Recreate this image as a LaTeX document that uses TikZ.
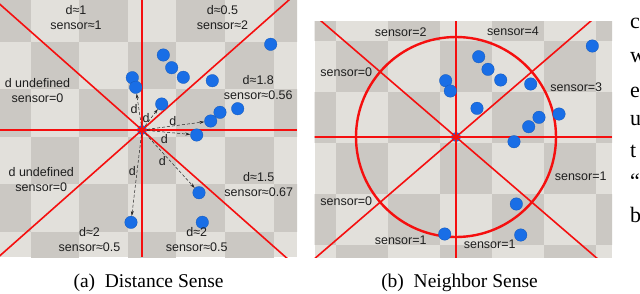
\documentclass[tikz,border=0pt]{standalone}
\usepackage{fontspec}
\setmainfont{Liberation Serif}
\newfontfamily\arialfont{Liberation Sans}
\usetikzlibrary{calc,arrows.meta}
\definecolor{SqLight}{RGB}{226,224,219}
\definecolor{SqDark}{RGB}{203,200,195}
\definecolor{LineRed}{RGB}{245,15,15}
\definecolor{DotBlue}{RGB}{25,110,230}
\definecolor{TextGray}{RGB}{30,30,30}
\tikzset{
  bot/.style={circle,fill=DotBlue,draw=DotBlue!80!black,line width=0.3pt,
              minimum size=12.5pt,inner sep=0pt},
  hub/.style={circle,fill=DotBlue,minimum size=10pt,inner sep=0pt},
  sline/.style={LineRed,line width=1.6pt},
  ring/.style={LineRed,line width=2.4pt},
  darr/.style={-{Stealth[length=5pt,width=3pt]},black!85,densely dashed,line width=0.5pt},
  lbl/.style={font=\arialfont\fontsize{12.5}{15}\selectfont,text=TextGray,
              inner sep=0pt,align=center},
  dlbl/.style={font=\arialfont\fontsize{12.5}{14}\selectfont,text=TextGray,inner sep=1pt},
  capt/.style={font=\fontsize{19.5}{23}\selectfont,anchor=base},
  ptext/.style={font=\fontsize{22}{26}\selectfont,anchor=base west,inner sep=0pt},
}
\begin{document}
\begin{tikzpicture}[x=1pt,y=-1pt]
  \useasboundingbox (0,0) rectangle (640,293);
  \fill[white] (0,0) rectangle (640,293);

  % (a) distance sense
  \begin{scope}
    \clip (0,0) rectangle (297,257);
    \fill[SqLight] (0,0) rectangle (297,257);
    \foreach \r in {0,...,5}{
      \foreach \c in {0,2,4,6}{
        \pgfmathsetmacro\sx{-18+48.6*(\c+mod(\r,2))}
        \fill[SqDark] (\sx,{-6+47.5*\r}) rectangle ++(48.6,47.5);
      }
    }
    \node[hub] (ca) at (142,130) {};
    \draw[sline] (ca.center |- 0,0) -- (ca.center |- 0,257);
    \draw[sline] (ca.center -| 0,0) -- (ca.center -| 297,0);
    \foreach \a in {41.5,138.5}
      \draw[sline] ($(ca)+(\a:-400)$) -- ($(ca)+(\a:400)$);
    \foreach \x/\y [count=\i] in {270.7/44.3,163.3/55,171.7/67.7,183.3/77.3,
        212.3/80.7,132.3/77.7,135.7/87.3,161.7/104,237.7/108.7,220/112.3,
        210.7/121,196.7/135,199/192.7,202.3/222.3,131/222.3}
      \node[bot] (a\i) at (\x,\y) {};
  \end{scope}

  \draw[darr] (ca) -- node[dlbl,midway,left=0pt]{d} (a7);
  \draw[darr] (ca) -- node[dlbl,pos=.45,left=0pt]{d} (a8);
  \draw[darr] (ca) -- node[dlbl,pos=.45,above=-1pt]{d} (a11);
  \draw[darr] (ca) -- node[dlbl,pos=.4,below=1pt]{d} (a12);
  \draw[darr] (ca) -- node[dlbl,midway,left=3pt]{d} (a13);
  \draw[darr] (ca) -- node[dlbl,pos=.45,left=0pt]{d} (a15);

  \node[lbl] (ta1) at (76,17.5) {d≈1\\sensor≈1};
  \node[lbl] (ta2) at (222.5,17.5) {d≈0.5\\sensor≈2};
  \node[lbl] (ta3) at (37.5,91) {d undefined\\sensor=0};
  \node[lbl] (ta4) at (258.3,87.5) {d≈1.8\\sensor≈0.56};
  \node[lbl] (ta5) at (41.3,180) {d undefined\\sensor=0};
  \node[lbl] (ta6) at (258.8,184.7) {d≈1.5\\sensor≈0.67};
  \node[lbl] (ta7) at (89.5,239.8) {d≈2\\sensor≈0.5};
  \node[lbl] (ta8) at (196.7,239.8) {d≈2\\sensor≈0.5};

  % (b) neighbor sense
  \begin{scope}
    \clip (314.7,21) rectangle (612,257.7);
    \fill[SqLight] (314.7,21) rectangle (612,257.7);
    \foreach \r in {0,...,5}{
      \foreach \c in {0,2,4,6}{
        \pgfmathsetmacro\sx{284+52*(\c+mod(\r,2))}
        \fill[SqDark] (\sx,{-10+51*\r}) rectangle ++(52,51);
      }
    }
    \node[hub] (cb) at (456,137) {};
    \draw[sline] (cb.center |- 0,21) -- (cb.center |- 0,258);
    \draw[sline] (cb.center -| 314,0) -- (cb.center -| 612,0);
    \foreach \a in {40.7,139.3}
      \draw[sline] ($(cb)+(\a:-400)$) -- ($(cb)+(\a:400)$);
    \draw[ring] (cb) circle[radius=100pt];
    \foreach \x/\y [count=\i] in {592.3/46,478.7/56.7,488/69.3,500.7/80,
        530.7/84,445.7/80.7,450.3/91,477/108.3,559/114,539/117.3,
        528.7/126.7,514/141.7,516.3/204,520.7/235,444.7/234}
      \node[bot] (b\i) at (\x,\y) {};
  \end{scope}

  \node[lbl] (tb1) at (400.7,31.7) {sensor=2};
  \node[lbl] (tb2) at (513,31.7) {sensor=4};
  \node[lbl] (tb3) at (346.3,72.3) {sensor=0};
  \node[lbl] (tb4) at (576.3,86.7) {sensor=3};
  \node[lbl] (tb5) at (580.7,176.7) {sensor=1};
  \node[lbl] (tb6) at (346.3,200.7) {sensor=0};
  \node[lbl] (tb7) at (400.7,240.7) {sensor=1};
  \node[lbl] (tb8) at (489.7,244.3) {sensor=1};

  \node[capt] (capa) at (148.5,287.3) {(a)~~Distance Sense};
  \node[capt] (capb) at (459.5,287.3) {(b)~~Neighbor Sense};

  \begin{scope}
    \clip (612,0) rectangle (640,293);
    \node[ptext] (p1) at (630,28) {c};
    \node[ptext] (p2) at (630,62) {w};
    \node[ptext] (p3) at (630,97) {e};
    \node[ptext] (p4) at (630,125) {u};
    \node[ptext] (p5) at (630,157) {t};
    \node[ptext] (p6) at (630,188) {\textquotedblleft};
    \node[ptext] (p7) at (630,222) {b};
  \end{scope}
\end{tikzpicture}
\end{document}
